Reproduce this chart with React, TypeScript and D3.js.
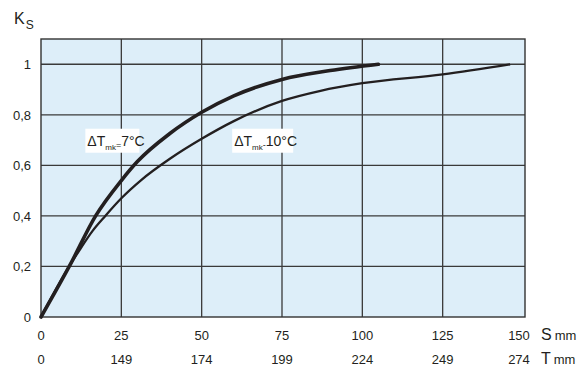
import { useEffect, useRef } from 'react';
import * as d3 from 'd3';

// axis ticks
const sTicks = [0, 25, 50, 75, 100, 125, 150];
const tLabels = ['0', '149', '174', '199', '224', '249', '274'];
const kTicks = [0, 0.2, 0.4, 0.6, 0.8, 1];

// dT_mk = 7 C (thick)
const s7 = [0, 9, 17, 25, 30, 40, 50, 60, 75, 90, 105];
const k7 = [0, 0.205, 0.4, 0.54, 0.615, 0.725, 0.81, 0.875, 0.94, 0.975, 1.0];

// dT_mk = 10 C (thin)
const s10 = [0, 9, 12, 16, 20, 25, 31, 40, 50, 60, 75, 87, 100, 125, 146];
const k10 = [0, 0.205, 0.265, 0.34, 0.4, 0.47, 0.54, 0.625, 0.705, 0.775, 0.855, 0.895, 0.925, 0.96, 1.0];

const W = 586;
const H = 367;

const App = () => {
    const ref = useRef<SVGSVGElement>(null);

    useEffect(() => {
        const svg = d3.select(ref.current);
        svg.selectAll('*').remove();

        const font = '"Liberation Sans", Arial, sans-serif';
        const x = d3.scaleLinear().domain([0, 150]).range([41, 523]);
        const y = d3.scaleLinear().domain([0, 1.1]).range([317, 39]);

        // plot background
        svg.append('rect')
            .attr('x', x(0)).attr('y', y(1.1))
            .attr('width', 525 - x(0)).attr('height', y(0) - y(1.1))
            .attr('fill', '#ddeef9');

        // grid
        svg.append('g')
            .selectAll('line')
            .data(kTicks.slice(1))
            .enter().append('line')
            .attr('x1', x(0)).attr('x2', 525)
            .attr('y1', d => y(d)).attr('y2', d => y(d))
            .attr('stroke', '#3a3a3a').attr('stroke-width', 1.3);

        svg.append('g')
            .selectAll('line')
            .data(sTicks.slice(1, -1))
            .enter().append('line')
            .attr('y1', y(0)).attr('y2', y(1.1))
            .attr('x1', d => x(d)).attr('x2', d => x(d))
            .attr('stroke', '#3a3a3a').attr('stroke-width', 1.3);

        // frame
        svg.append('rect')
            .attr('x', x(0)).attr('y', y(1.1))
            .attr('width', 525 - x(0)).attr('height', y(0) - y(1.1))
            .attr('fill', 'none').attr('stroke', '#333').attr('stroke-width', 1.4);

        // curves
        const line = d3.line<[number, number]>()
            .x(d => x(d[0])).y(d => y(d[1]))
            .curve(d3.curveMonotoneX);

        svg.append('path')
            .attr('d', line(s10.map((s, i) => [s, k10[i]])))
            .attr('fill', 'none').attr('stroke', '#231f20').attr('stroke-width', 2.3);

        svg.append('path')
            .attr('d', line(s7.map((s, i) => [s, k7[i]])))
            .attr('fill', 'none').attr('stroke', '#231f20').attr('stroke-width', 3.6)
            .attr('stroke-linecap', 'round');

        // y tick labels
        svg.append('g')
            .selectAll('text')
            .data(kTicks)
            .enter().append('text')
            .attr('x', 31).attr('y', d => y(d) + 5)
            .attr('text-anchor', 'end')
            .attr('font-family', font).attr('font-size', 13).attr('fill', '#231f20')
            .text(d => d === 0 || d === 1 ? String(d) : d.toFixed(1).replace('.', ','));

        // x tick labels (S and T rows)
        svg.append('g')
            .selectAll('text')
            .data(sTicks)
            .enter().append('text')
            .attr('x', (d, i) => i === sTicks.length - 1 ? x(d) - 4 : x(d))
            .attr('y', 340)
            .attr('text-anchor', 'middle')
            .attr('font-family', font).attr('font-size', 13).attr('fill', '#231f20')
            .text(d => String(d));

        svg.append('g')
            .selectAll('text')
            .data(tLabels)
            .enter().append('text')
            .attr('x', (d, i) => i === tLabels.length - 1 ? x(sTicks[i]) - 4 : x(sTicks[i]))
            .attr('y', 364)
            .attr('text-anchor', 'middle')
            .attr('font-family', font).attr('font-size', 13).attr('fill', '#231f20')
            .text(d => d);

        // unit labels
        const unit = (ty: number, letter: string) => {
            const t = svg.append('text')
                .attr('x', 541).attr('y', ty)
                .attr('font-family', font).attr('fill', '#231f20');
            t.append('tspan').attr('font-size', 16).text(letter);
            t.append('tspan').attr('dx', 3).attr('font-size', 13).text('mm');
        };
        unit(340, 'S');
        unit(364, 'T');

        // K_S
        const ks = svg.append('text')
            .attr('x', 14).attr('y', 24)
            .attr('font-family', font).attr('fill', '#231f20');
        ks.append('tspan').attr('font-size', 16).text('K');
        ks.append('tspan').attr('font-size', 12).attr('dx', 1).attr('dy', 5).text('S');

        // curve labels
        const label = (lx: number, ly: number, bw: number, sep: string, val: string) => {
            const g = svg.append('g').attr('transform', `translate(${lx},${ly})`);
            g.append('rect')
                .attr('x', 0).attr('y', 0).attr('width', bw).attr('height', 24)
                .attr('fill', '#fff');
            const t = g.append('text')
                .attr('x', 2).attr('y', 17)
                .attr('font-family', font).attr('fill', '#231f20');
            t.append('tspan').attr('font-size', 14).text('\u0394T');
            t.append('tspan').attr('font-size', 8).attr('dy', 4).text('mk');
            t.append('tspan').attr('font-size', 9).attr('dy', -2).text(sep);
            t.append('tspan').attr('font-size', 14).attr('dy', -2).text(val + '\u00b0C');
        };
        label(x(13.8), y(0.745), 54, '=', '7');
        label(x(59.5), y(0.745), 61, '-', '10');
    }, []);

    return (
        <svg
            ref={ref}
            width={W}
            height={H}
            style={{ position: 'absolute', left: 0, top: 0, background: '#fff' }}
        />
    );
};

export default App;
